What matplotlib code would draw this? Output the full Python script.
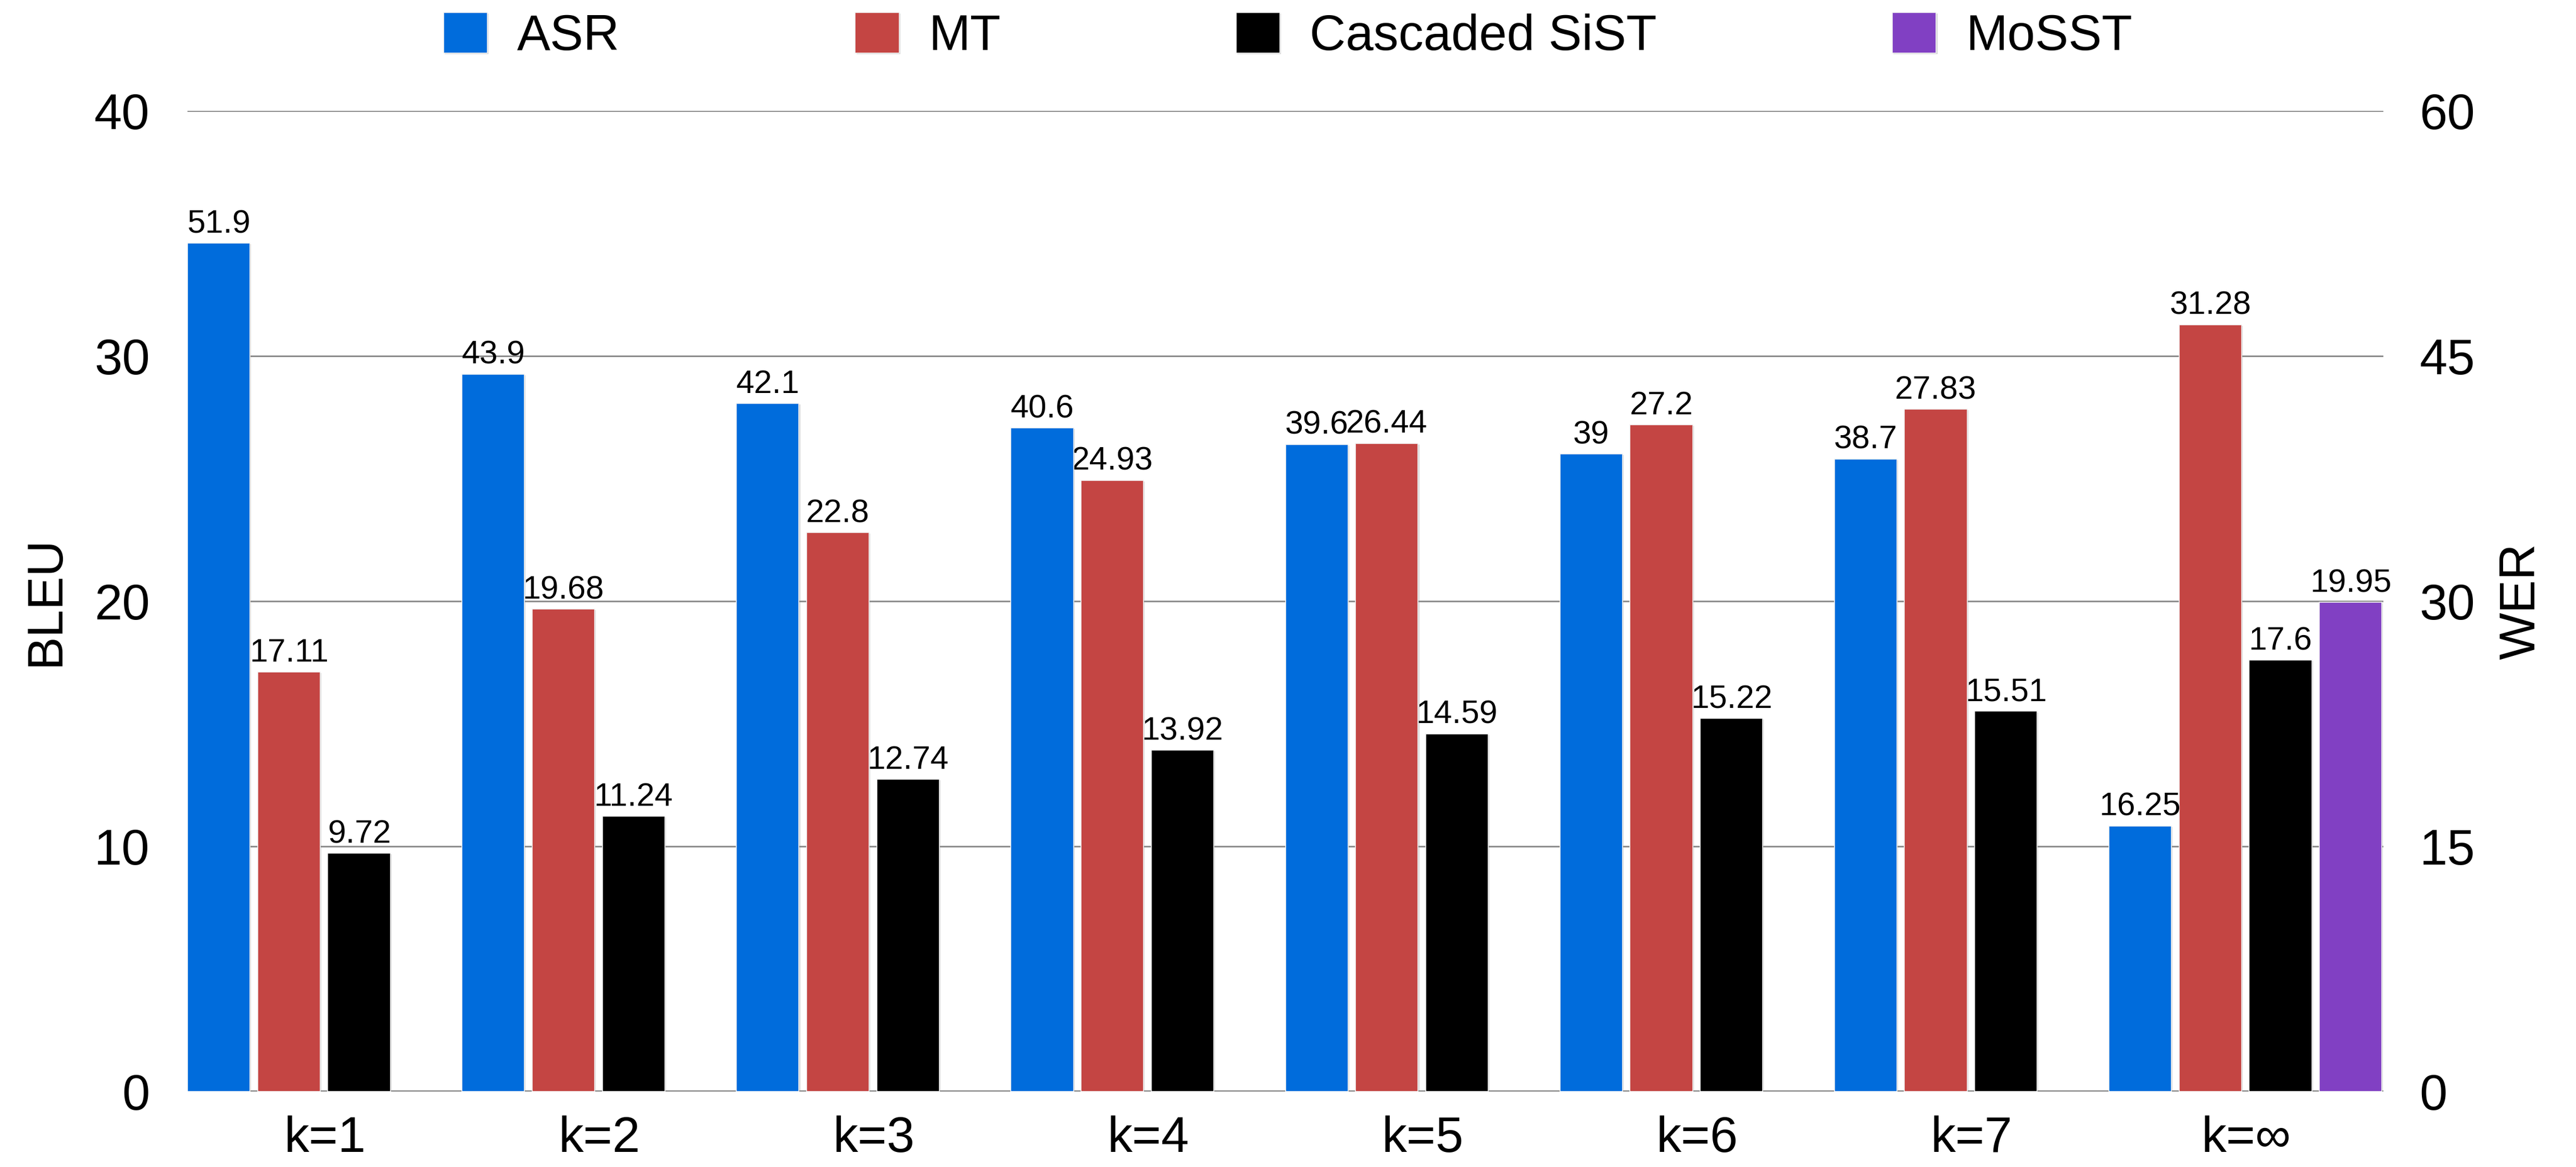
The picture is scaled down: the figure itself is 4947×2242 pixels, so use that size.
import numpy as np
import matplotlib
matplotlib.use('Agg')
import matplotlib.pyplot as plt
import matplotlib.patheffects as pe

plt.rcParams['font.family'] = ['Liberation Sans', 'DejaVu Sans']

categories = ['k=1', 'k=2', 'k=3', 'k=4', 'k=5', 'k=6', 'k=7', 'k=∞']
asr_wer = [51.9, 43.9, 42.1, 40.6, 39.6, 39, 38.7, 16.25]
mt_bleu = [17.11, 19.68, 22.8, 24.93, 26.44, 27.2, 27.83, 31.28]
cascaded_bleu = [9.72, 11.24, 12.74, 13.92, 14.59, 15.22, 15.51, 17.6]
mosst_bleu = [None, None, None, None, None, None, None, 19.95]

series_names = ['ASR', 'MT', 'Cascaded SiST', 'MoSST']
colors = ['#006cdc', '#c44543', '#000000', '#8140c3']

W, H = 4947, 2242
fig = plt.figure(figsize=(W / 100, H / 100), dpi=100)
ax = fig.add_axes([360 / W, 1 - 2097 / H, (4577 - 360) / W, (2097 - 213) / H])
ax2 = ax.twinx()

x = np.arange(len(categories))
bar_w = 0.228
pitch = 0.2556
shadow = [pe.SimplePatchShadow(offset=(1.5, -1.5), shadow_rgbFace='#888888', alpha=0.35),
          pe.Normal()]


def draw(axis, values, slot, color, label):
    xs = [x[i] + bar_w / 2 + slot * pitch for i, v in enumerate(values) if v is not None]
    vs = [v for v in values if v is not None]
    bars = axis.bar(xs, vs, width=bar_w, color=color, edgecolor='#f4f4f4',
                    linewidth=1.2, label=label, zorder=3)
    for b in bars:
        b.set_path_effects(shadow)
    for xi, v in zip(xs, vs):
        axis.annotate('{:g}'.format(v), (xi, v), xytext=(0, 5), textcoords='offset points',
                      ha='center', va='bottom', fontsize=45, zorder=5)
    return bars


h_asr = draw(ax2, asr_wer, 0, colors[0], series_names[0])
h_mt = draw(ax, mt_bleu, 1, colors[1], series_names[1])
h_cas = draw(ax, cascaded_bleu, 2, colors[2], series_names[2])
h_mo = draw(ax, mosst_bleu, 3, colors[3], series_names[3])

ax.set_xlim(0, len(categories))
ax.set_ylim(0, 40)
ax2.set_ylim(0, 60)
ax.set_yticks([0, 10, 20, 30, 40])
ax2.set_yticks([0, 15, 30, 45, 60])
ax.set_xticks(x + 0.5)
ax.set_xticklabels(categories)

for a in (ax, ax2):
    for s in a.spines.values():
        s.set_visible(False)
ax.tick_params(axis='y', length=0, pad=52, labelsize=69)
ax2.tick_params(axis='y', length=0, pad=50, labelsize=69)
ax.tick_params(axis='x', length=0, pad=33, labelsize=69)

ax.yaxis.grid(True, color='#8c8c8c', linewidth=2.2)
ax.set_axisbelow(True)
ax.axhline(0, color='#7a7a7a', linewidth=3, zorder=2)

ax.set_ylabel('BLEU', fontsize=69, va='center')
ax.yaxis.set_label_coords(-0.0645, 0.5)
ax2.set_ylabel('WER', fontsize=69, va='center')
ax2.yaxis.set_label_coords(1.063, 0.5)

fig.legend([h_asr, h_mt, h_cas, h_mo], series_names, loc='center',
           bbox_to_anchor=(0.5, 1 - 70 / H), ncol=4, frameon=False, fontsize=69,
           handlelength=0.877, handleheight=0.877, handletextpad=0.595,
           columnspacing=4.72, borderpad=0, borderaxespad=0)

fig.savefig('out.png', dpi=100)
